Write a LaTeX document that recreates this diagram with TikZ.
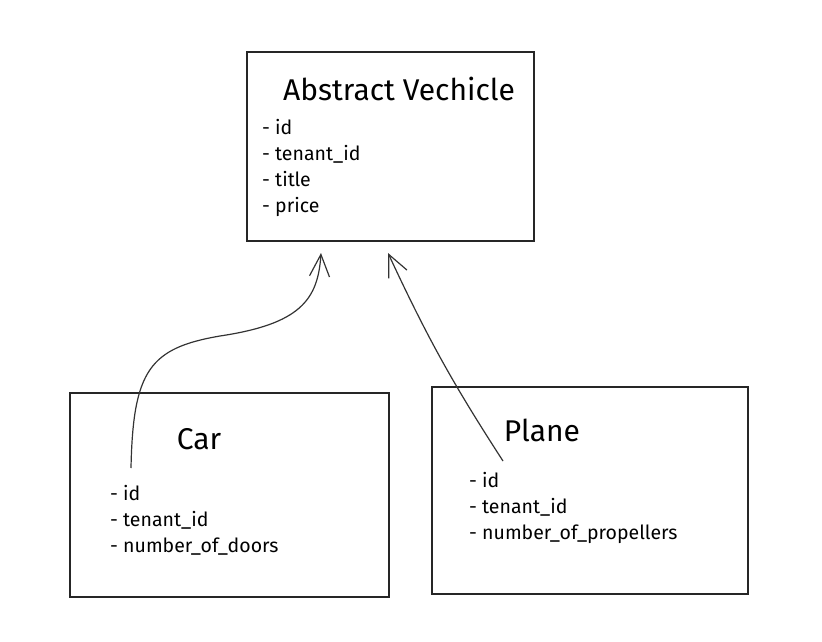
\documentclass[tikz,border=0pt]{standalone}
\usepackage{fontspec}
\setmainfont{Fira Sans}
\usetikzlibrary{arrows.meta,positioning}
\tikzset{
  cls/.style={draw=black!85, line width=1.4pt, fill=white},
  ttl/.style={font=\fontsize{30}{34}\selectfont, inner sep=0pt},
  fields/.style={font=\fontsize{19.5}{26}\selectfont, align=left, inner sep=0pt, anchor=north west},
  inh/.style={-{Straight Barb[length=22pt, width=20pt, line width=1.2pt]}, line width=1.2pt, draw=black!80},
}
\begin{document}
\begin{tikzpicture}[x=1pt, y=-1pt]
\useasboundingbox (0,0) rectangle (822,642);
% classes
\node[cls, minimum width=287pt, minimum height=189pt] (abs) at (390.5,146.5) {};
\node[cls, minimum width=319pt, minimum height=204pt] (car) at (229.5,495) {};
\node[cls, minimum width=316pt, minimum height=207pt] (plane) at (590,490.5) {};
\node[ttl] (absT) at (399,89) {Abstract Vechicle};
\node[ttl] (carT) at (199,439) {Car};
\node[ttl] (planeT) at (542,430) {Plane};
\node[fields] (absF) at (262,119) {- id\\- tenant\_id\\- title\\- price};
\node[fields] (carF) at (110,485) {- id\\- tenant\_id\\- number\_of\_doors};
\node[fields] (planeF) at (469,472) {- id\\- tenant\_id\\- number\_of\_propellers};
% inheritance
\coordinate (carTail) at (131,468);
\coordinate (absIn1) at (321,253);
\coordinate (planeTail) at (503,461);
\coordinate (absIn2) at (388,253);
\draw[inh] (carTail) .. controls (133,370) and (150,348) .. (220,336) .. controls (300,324) and (318,300) .. (absIn1);
\draw[inh] (planeTail) to[bend left=4] (absIn2);
\end{tikzpicture}
\end{document}
